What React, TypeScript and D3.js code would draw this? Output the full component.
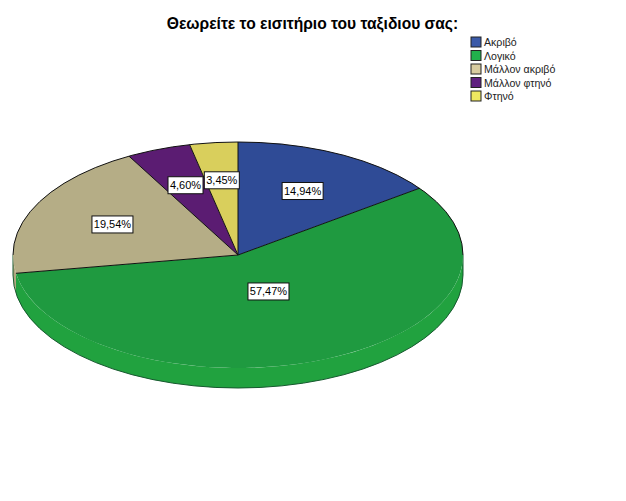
import React from 'react';
import * as d3 from 'd3';

const title = 'Θεωρείτε το εισιτήριο του ταξιδιου σας:';
const categories = ['Ακριβό', 'Λογικό', 'Μάλλον ακριβό', 'Μάλλον φτηνό', 'Φτηνό'];
const values = [14.94, 57.47, 19.54, 4.6, 3.45];
const colors = ['#2f4b96', '#1f9a40', '#b5ad86', '#5b1c72', '#d9cf5c'];
const legendColors = ['#3b5aa8', '#22b04c', '#d8cca0', '#5f2080', '#efe860'];
const wallColors = ['#24397a', '#21a23f', '#b0a67e', '#4a165d', '#bdb44e'];
// SPSS pulls the biggest slice's label toward the centre
const labelRadius = [0.635, 0.35, 0.62, 0.66, 0.665];

const width = 626;
const height = 501;
const cx = 238;
const cy = 255;
const rx = 225;
const ry = 113;
const depth = 20;

type Slice = d3.PieArcDatum<number>;

const App: React.FC = () => {
  const pie = d3.pie<number>().sort(null)(values);
  const yScale = ry / rx;
  const dy = depth / yScale;
  const arc = d3.arc<Slice>().innerRadius(0).outerRadius(rx);
  const legendY = d3.scalePoint<string>().domain(categories).range([42, 96]);
  const quarter = Math.PI / 2;

  // side of the disc, only the part facing the viewer
  const wallPath = (s: Slice) => {
    const a0 = Math.max(s.startAngle, quarter);
    const a1 = Math.min(s.endAngle, 3 * quarter);
    if (a1 <= a0) return null;
    const p = d3.path();
    p.arc(0, 0, rx, a0 - quarter, a1 - quarter);
    p.arc(0, dy, rx, a1 - quarter, a0 - quarter, true);
    p.closePath();
    return p.toString();
  };

  // back rim of the top face
  const backRim = d3.path();
  backRim.arc(0, 0, rx, Math.PI, 2 * Math.PI);

  // outer edge of the side wall
  const frontRim = d3.path();
  frontRim.moveTo(rx, 0);
  frontRim.arc(0, dy, rx, 0, Math.PI);
  frontRim.lineTo(-rx, 0);

  // line from the centre to the rim at a slice's start angle
  const spoke = (angle: number) =>
    d3.lineRadial<number>().angle(angle).radius(d => d)([0, rx]) || '';

  return (
    <svg
      width={width}
      height={height}
      style={{ position: 'absolute', left: 0, top: 0, background: '#fff', fontFamily: '"Liberation Sans", Arial, sans-serif' }}
    >
      <text x={312.5} y={29} textAnchor="middle" fontSize={15.6} fontWeight="bold" fill="#000">
        {title}
      </text>

      <g transform={`translate(${cx},${cy}) scale(1,${yScale})`}>
        {pie.map((s, i) => {
          const d = wallPath(s);
          return d ? <path key={i} d={d} fill={wallColors[i]} /> : null;
        })}
        <path d={frontRim.toString()} fill="none" stroke="#17592f" strokeWidth={1} vectorEffect="non-scaling-stroke" />
        {pie.map((s, i) => (
          <path key={i} d={arc(s) || ''} fill={colors[i]} />
        ))}
        <path d={backRim.toString()} fill="none" stroke="#111" strokeWidth={1} vectorEffect="non-scaling-stroke" />
        {pie.map((s, i) => (
          <path key={i} d={spoke(s.startAngle)} fill="none" stroke="#111" strokeWidth={1} vectorEffect="non-scaling-stroke" />
        ))}
      </g>

      {pie.map((s, i) => {
        const r = rx * labelRadius[i];
        const [lx, ly] = d3.arc<Slice>().innerRadius(r).outerRadius(r).centroid(s);
        const label = values[i].toFixed(2).replace('.', ',') + '%';
        const x = cx + lx;
        const y = cy + ly * yScale;
        const w = label.length * 6 + 5;
        return (
          <g key={i}>
            <rect x={x - w / 2} y={y - 8.5} width={w} height={17} fill="#fff" stroke="#111" strokeWidth={1} />
            <text x={x} y={y + 4} textAnchor="middle" fontSize={11} fill="#000">
              {label}
            </text>
          </g>
        );
      })}

      {categories.map((c, i) => {
        const y = legendY(c) as number;
        return (
          <g key={c}>
            <rect x={471} y={y - 5} width={10} height={10} fill={legendColors[i]} stroke="#222" strokeWidth={1} />
            <text x={484} y={y + 4} fontSize={10.6} fill="#222">
              {c}
            </text>
          </g>
        );
      })}
    </svg>
  );
};

export default App;
